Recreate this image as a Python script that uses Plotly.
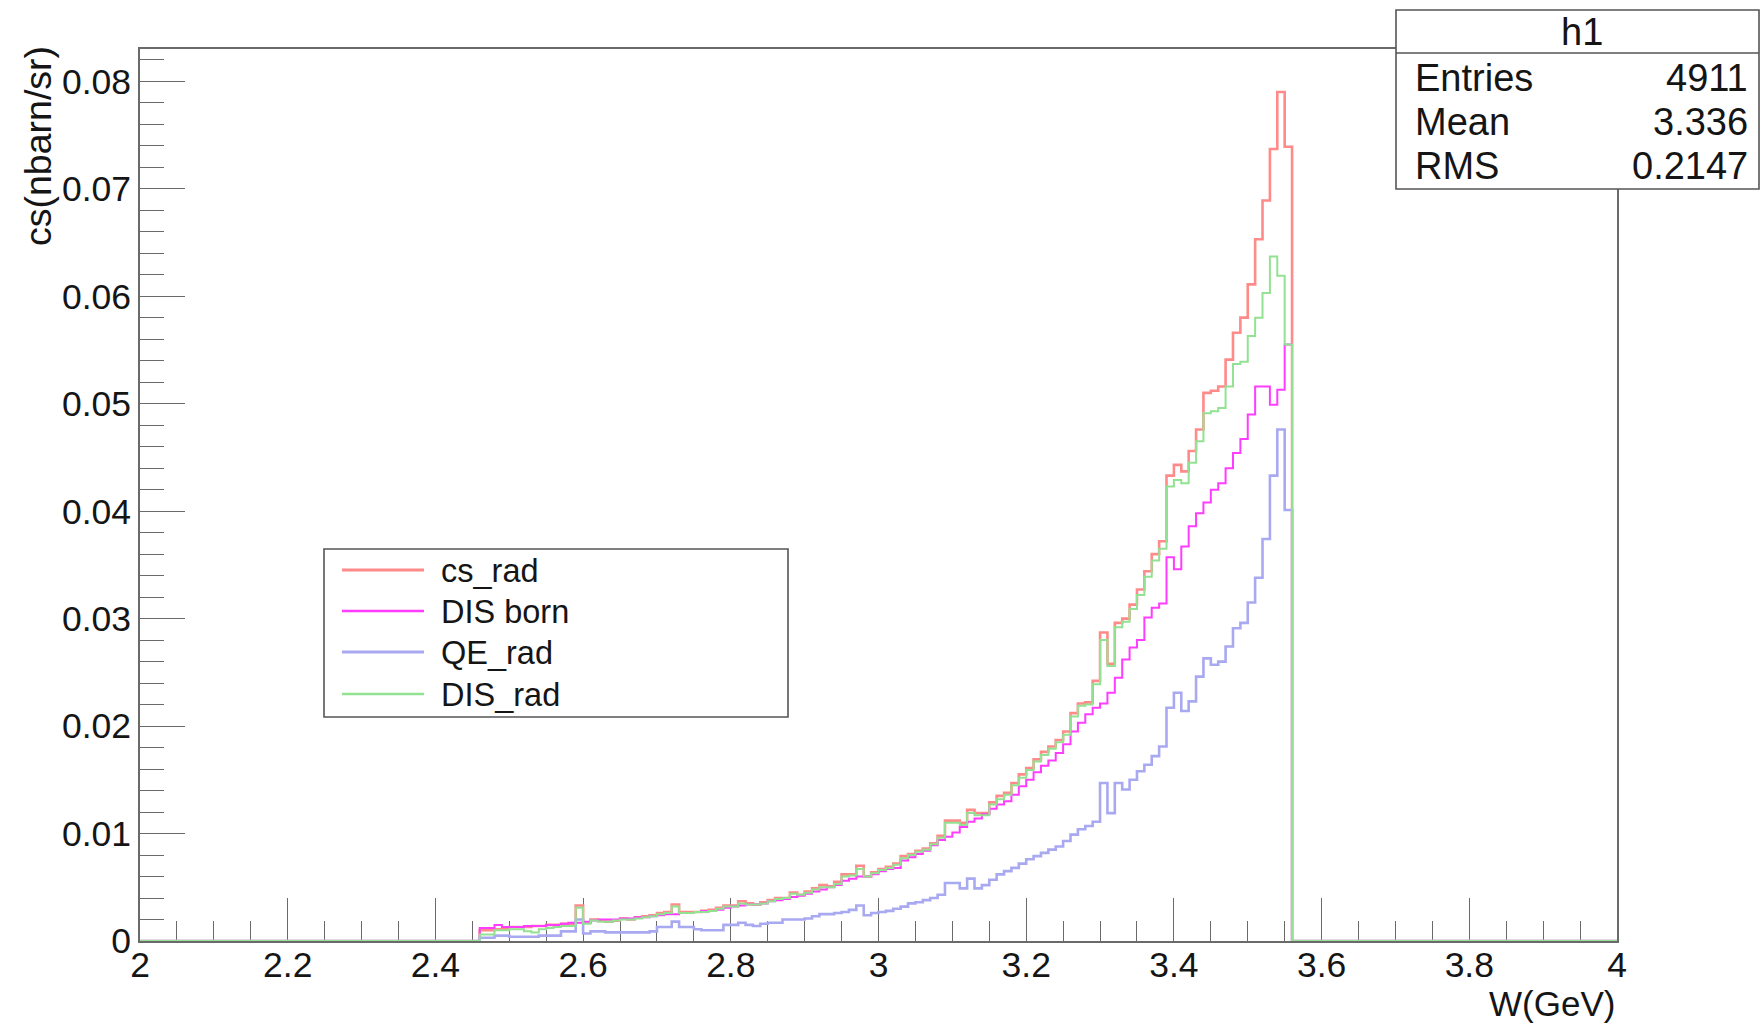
import numpy as np
import plotly.graph_objects as go

# ---------------- data ----------------
x_min, x_max = 2.0, 4.0
bin_width = 0.01
first_bin = 2.46          # left edge of the first filled bin (2.46 ... 3.55)

cs_rad = [
    0.0010, 0.0010, 0.0011, 0.0011, 0.0013, 0.0013, 0.0013, 0.0014, 0.0014, 0.0015,
    0.0015, 0.0016, 0.0016, 0.0033, 0.0017, 0.0020, 0.0019, 0.0018, 0.0019, 0.0021,
    0.0020, 0.0022, 0.0023, 0.0024, 0.0026, 0.0027, 0.0034, 0.0027, 0.0027, 0.0027,
    0.0028, 0.0029, 0.0031, 0.0033, 0.0033, 0.0037, 0.0035, 0.0034, 0.0036, 0.0038,
    0.0040, 0.0040, 0.0045, 0.0043, 0.0046, 0.0049, 0.0052, 0.0051, 0.0055, 0.0062,
    0.0062, 0.0070, 0.0060, 0.0064, 0.0067, 0.0069, 0.0072, 0.0079, 0.0081, 0.0084,
    0.0086, 0.0091, 0.0098, 0.0112, 0.0112, 0.0110, 0.0122, 0.0119, 0.0119, 0.0129,
    0.0135, 0.0138, 0.0147, 0.0155, 0.0161, 0.0169, 0.0176, 0.0181, 0.0187, 0.0195,
    0.0212, 0.0221, 0.0222, 0.0242, 0.0287, 0.0258, 0.0296, 0.0300, 0.0313, 0.0327,
    0.0344, 0.0360, 0.0372, 0.0433, 0.0443, 0.0437, 0.0456, 0.0476, 0.0510, 0.0512,
    0.0516, 0.0541, 0.0566, 0.0580, 0.0611, 0.0653, 0.0689, 0.0737, 0.0790, 0.0739,
]
dis_born = [
    0.0012, 0.0012, 0.0015, 0.0013, 0.0013, 0.0013, 0.0014, 0.0014, 0.0014, 0.0015,
    0.0015, 0.0016, 0.0017, 0.0017, 0.0018, 0.0019, 0.0020, 0.0020, 0.0020, 0.0021,
    0.0021, 0.0022, 0.0022, 0.0023, 0.0024, 0.0025, 0.0025, 0.0026, 0.0026, 0.0027,
    0.0028, 0.0028, 0.0029, 0.0031, 0.0032, 0.0033, 0.0034, 0.0034, 0.0035, 0.0037,
    0.0038, 0.0039, 0.0041, 0.0042, 0.0044, 0.0046, 0.0048, 0.0050, 0.0052, 0.0056,
    0.0058, 0.0060, 0.0060, 0.0062, 0.0065, 0.0067, 0.0068, 0.0075, 0.0078, 0.0081,
    0.0084, 0.0089, 0.0094, 0.0097, 0.0101, 0.0106, 0.0111, 0.0114, 0.0118, 0.0123,
    0.0127, 0.0130, 0.0136, 0.0144, 0.0150, 0.0157, 0.0163, 0.0168, 0.0175, 0.0183,
    0.0195, 0.0203, 0.0211, 0.0217, 0.0221, 0.0231, 0.0245, 0.0262, 0.0273, 0.0280,
    0.0301, 0.0310, 0.0314, 0.0357, 0.0346, 0.0367, 0.0386, 0.0398, 0.0408, 0.0420,
    0.0426, 0.0440, 0.0454, 0.0467, 0.0490, 0.0516, 0.0516, 0.0499, 0.0513, 0.0555,
]
qe_rad = [
    0.0003, 0.0003, 0.0005, 0.0005, 0.0004, 0.0004, 0.0004, 0.0004, 0.0005, 0.0005,
    0.0005, 0.0009, 0.0009, 0.0020, 0.0007, 0.0009, 0.0009, 0.0008, 0.0008, 0.0008,
    0.0008, 0.0008, 0.0008, 0.0009, 0.0013, 0.0013, 0.0018, 0.0013, 0.0013, 0.0011,
    0.0010, 0.0010, 0.0010, 0.0015, 0.0015, 0.0017, 0.0015, 0.0014, 0.0016, 0.0017,
    0.0017, 0.0020, 0.0020, 0.0020, 0.0021, 0.0023, 0.0025, 0.0025, 0.0026, 0.0027,
    0.0029, 0.0033, 0.0024, 0.0026, 0.0027, 0.0028, 0.0030, 0.0032, 0.0035, 0.0036,
    0.0038, 0.0040, 0.0043, 0.0054, 0.0054, 0.0049, 0.0058, 0.0049, 0.0052, 0.0057,
    0.0062, 0.0065, 0.0068, 0.0072, 0.0076, 0.0079, 0.0082, 0.0085, 0.0088, 0.0093,
    0.0099, 0.0104, 0.0107, 0.0111, 0.0147, 0.0119, 0.0147, 0.0141, 0.0150, 0.0158,
    0.0164, 0.0172, 0.0181, 0.0217, 0.0231, 0.0214, 0.0223, 0.0246, 0.0263, 0.0257,
    0.0260, 0.0274, 0.0291, 0.0296, 0.0315, 0.0338, 0.0374, 0.0433, 0.0476, 0.0401,
]
dis_rad = [
    0.0006, 0.0006, 0.0010, 0.0010, 0.0011, 0.0011, 0.0009, 0.0008, 0.0011, 0.0012,
    0.0013, 0.0014, 0.0014, 0.0031, 0.0016, 0.0019, 0.0018, 0.0018, 0.0019, 0.0020,
    0.0020, 0.0021, 0.0022, 0.0023, 0.0025, 0.0026, 0.0032, 0.0026, 0.0026, 0.0027,
    0.0027, 0.0028, 0.0030, 0.0032, 0.0032, 0.0035, 0.0034, 0.0034, 0.0035, 0.0037,
    0.0039, 0.0040, 0.0044, 0.0043, 0.0045, 0.0048, 0.0050, 0.0050, 0.0053, 0.0060,
    0.0061, 0.0067, 0.0060, 0.0063, 0.0066, 0.0068, 0.0071, 0.0077, 0.0080, 0.0083,
    0.0085, 0.0090, 0.0096, 0.0110, 0.0110, 0.0108, 0.0119, 0.0117, 0.0117, 0.0127,
    0.0132, 0.0136, 0.0145, 0.0152, 0.0159, 0.0167, 0.0173, 0.0179, 0.0185, 0.0192,
    0.0209, 0.0219, 0.0220, 0.0239, 0.0280, 0.0256, 0.0292, 0.0297, 0.0309, 0.0322,
    0.0339, 0.0354, 0.0365, 0.0423, 0.0429, 0.0426, 0.0445, 0.0465, 0.0491, 0.0493,
    0.0496, 0.0516, 0.0537, 0.0539, 0.0563, 0.0580, 0.0603, 0.0637, 0.0619, 0.0555,
]

series_names = ["cs_rad", "DIS born", "QE_rad", "DIS_rad"]
stats_labels = ["Entries", "Mean", "RMS"]
stats_values = ["4911", "3.336", "0.2147"]
x_tick_vals = [2.0, 2.2, 2.4, 2.6, 2.8, 3.0, 3.2, 3.4, 3.6, 3.8, 4.0]
x_tick_text = ["2", "2.2", "2.4", "2.6", "2.8", "3", "3.2", "3.4", "3.6", "3.8", "4"]
y_tick_vals = [0, 0.01, 0.02, 0.03, 0.04, 0.05, 0.06, 0.07, 0.08]
y_tick_text = ["0", "0.01", "0.02", "0.03", "0.04", "0.05", "0.06", "0.07", "0.08"]

# ---------------- styling ----------------
colors = ["#ff8a8a", "#ff3cff", "#a9a9f2", "#93e293"]
widths = [2.6, 2.0, 2.6, 2.0]
FONT = "Liberation Sans, Arial, Helvetica, sans-serif"
AX = "#6a6a6a"
TXT = "#151515"

W, H = 1761, 1025
L, R, T, B = 140, 1617, 49, 941


def px(xp):
    return (xp - L) / (R - L)


def py(yp):
    return (B - yp) / (B - T)


n_bins = int(round((x_max - x_min) / bin_width))
edges = x_min + bin_width * np.arange(n_bins + 1)
start = int(round((first_bin - x_min) / bin_width))


def hist_line(vals):
    full = np.zeros(n_bins)
    full[start:start + len(vals)] = vals
    return edges, np.append(full, full[-1])


fig = go.Figure()
for name, vals, c, w in zip(series_names, [cs_rad, dis_born, qe_rad, dis_rad], colors, widths):
    xs, ys = hist_line(vals)
    fig.add_trace(go.Scatter(x=xs, y=ys, mode="lines", name=name,
                             line=dict(color=c, width=w, shape="hv"),
                             cliponaxis=False, showlegend=False,
                             hoverinfo="skip"))

shapes = []
annotations = []

# legend box
shapes.append(dict(type="rect", xref="paper", yref="paper",
                   x0=px(324), x1=px(788), y0=py(549), y1=py(717),
                   line=dict(color="#555", width=1.6), fillcolor="white", layer="above"))
leg_rows = [570, 611, 652, 694]
for name, c, w, yr in zip(series_names, colors, widths, leg_rows):
    shapes.append(dict(type="line", xref="paper", yref="paper",
                       x0=px(342), x1=px(424), y0=py(yr), y1=py(yr),
                       line=dict(color=c, width=w + 0.6)))
    annotations.append(dict(xref="paper", yref="paper", x=px(439), y=py(yr + 1),
                            text=name, showarrow=False, xanchor="left", yanchor="middle",
                            font=dict(family=FONT, size=32.5, color=TXT)))

# statistics box
shapes.append(dict(type="rect", xref="paper", yref="paper",
                   x0=px(1396), x1=px(1759), y0=py(10), y1=py(189),
                   line=dict(color="#555", width=1.6), fillcolor="white", layer="above"))
shapes.append(dict(type="line", xref="paper", yref="paper",
                   x0=px(1396), x1=px(1759), y0=py(53), y1=py(53),
                   line=dict(color="#555", width=1.6)))
annotations.append(dict(xref="paper", yref="paper", x=px(1582), y=py(32), text="h1",
                        showarrow=False, xanchor="center", yanchor="middle",
                        font=dict(family=FONT, size=38, color=TXT)))
for lab, val, yr in zip(stats_labels, stats_values, [78, 122, 166]):
    annotations.append(dict(xref="paper", yref="paper", x=px(1413), y=py(yr), text=lab,
                            showarrow=False, xanchor="left", yanchor="middle",
                            font=dict(family=FONT, size=38, color=TXT)))
    annotations.append(dict(xref="paper", yref="paper", x=px(1750), y=py(yr), text=val,
                            showarrow=False, xanchor="right", yanchor="middle",
                            font=dict(family=FONT, size=38, color=TXT)))

# axis titles
annotations.append(dict(xref="paper", yref="paper", x=1.0, y=py(1003), text="W(GeV)",
                        showarrow=False, xanchor="right", yanchor="middle",
                        font=dict(family=FONT, size=35, color=TXT)))
annotations.append(dict(xref="paper", yref="paper", x=px(38), y=py(44), text="cs(nbarn/sr)",
                        showarrow=False, xanchor="center", yanchor="top", textangle=-90,
                        font=dict(family=FONT, size=37.5, color=TXT)))

fig.update_layout(
    width=W, height=H,
    margin=dict(l=L, r=W - R, t=T, b=H - B, pad=0),
    paper_bgcolor="white", plot_bgcolor="white",
    shapes=shapes, annotations=annotations,
    showlegend=False,
    font=dict(family=FONT, size=36, color=TXT),
    xaxis=dict(range=[x_min, x_max], tickvals=x_tick_vals, ticktext=x_tick_text,
               ticks="inside", ticklen=43, tickwidth=1.4, tickcolor=AX,
               minor=dict(dtick=0.05, tick0=2.0, ticks="inside", ticklen=20,
                          tickwidth=1.4, tickcolor=AX, showgrid=False),
               showline=True, linecolor=AX, linewidth=1.8, mirror=True,
               showgrid=False, zeroline=False, layer="below traces",
               ticklabelstandoff=-9,
               tickfont=dict(family=FONT, size=35.5, color=TXT)),
    yaxis=dict(range=[0, 0.083], tickvals=y_tick_vals, ticktext=y_tick_text,
               ticks="inside", ticklen=45, tickwidth=1.4, tickcolor=AX,
               minor=dict(dtick=0.002, tick0=0, ticks="inside", ticklen=24,
                          tickwidth=1.4, tickcolor=AX, showgrid=False),
               showline=True, linecolor=AX, linewidth=1.8, mirror=True,
               showgrid=False, zeroline=False, layer="below traces",
               tickfont=dict(family=FONT, size=35.5, color=TXT)),
)

fig.write_html("out.html")
